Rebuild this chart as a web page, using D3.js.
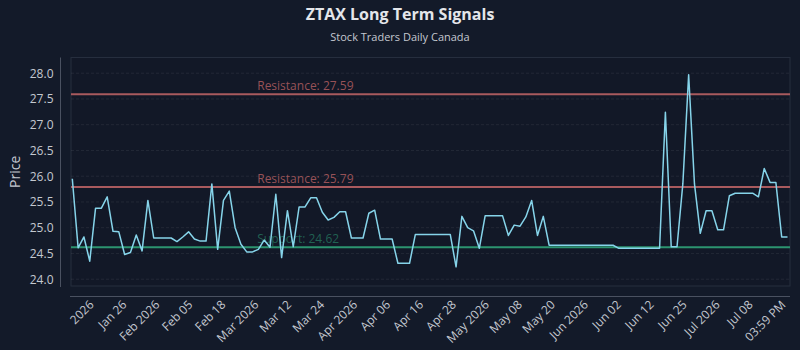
<!DOCTYPE html>
<html>
<head>
<meta charset="utf-8">
<script src="https://cdn.jsdelivr.net/npm/d3@7"></script>
<style>
  body { margin: 0; background: #131a29; }
  text { font-family: "Open Sans", sans-serif; }
</style>
</head>
<body>
<svg id="chart"></svg>
<script>
// closing prices, one per session
let prices = [
  25.95, 24.61, 24.82, 24.35, 25.38, 25.38, 25.60, 24.93, 24.92, 24.48,
  24.52, 24.86, 24.55, 25.53, 24.80, 24.80, 24.80, 24.80, 24.73, 24.82,
  24.92, 24.78, 24.74, 24.74, 25.85, 24.58, 25.53, 25.71, 25.00, 24.68,
  24.53, 24.53, 24.58, 24.76, 24.62, 25.65, 24.42, 25.33, 24.63, 25.40,
  25.40, 25.58, 25.58, 25.30, 25.15, 25.20, 25.31, 25.31, 24.80, 24.80,
  24.80, 25.28, 25.34, 24.78, 24.78, 24.78, 24.31, 24.31, 24.31, 24.87,
  24.87, 24.87, 24.87, 24.87, 24.87, 24.87, 24.24, 25.22, 25.00, 24.94,
  24.60, 25.23, 25.23, 25.23, 25.23, 24.85, 25.05, 25.03, 25.21, 25.53,
  24.85, 25.22, 24.66, 24.66, 24.66, 24.66, 24.66, 24.66, 24.66, 24.66,
  24.66, 24.66, 24.66, 24.66, 24.60, 24.60, 24.60, 24.60, 24.60, 24.60,
  24.60, 24.60, 27.24, 24.63, 24.63, 25.85, 27.97, 25.85, 24.89, 25.33,
  25.33, 24.96, 24.96, 25.62, 25.67, 25.67, 25.67, 25.67, 25.60, 26.15,
  25.88, 25.88, 24.82, 24.82
];

let x_labels = ["2026", "Jan 26", "Feb 2026", "Feb 05", "Feb 18", "Mar 2026", "Mar 12",
  "Mar 24", "Apr 2026", "Apr 06", "Apr 16", "Apr 28", "May 2026", "May 08", "May 20",
  "Jun 2026", "Jun 02", "Jun 12", "Jun 25", "Jul 2026", "Jul 08", "03:59 PM"];

let y_ticks = [24.0, 24.5, 25.0, 25.5, 26.0, 26.5, 27.0, 27.5, 28.0];

let resistance = [27.59, 25.79];
let support = [24.62];

let width = 800,
  height = 350,
  margins = {left: 71, right: 10, top: 57.5, bottom: 64},
  colors = {line: "#86d4ea", res: "#a95a5e", sup: "#2c9470", text: "#c4c8d0"};

function make_scales() {
  return {
    x: d3.scaleLinear()
      .domain([0, prices.length - 1])
      .range([margins.left + 1.3, width - margins.right - 2.5]),
    xl: d3.scalePoint()
      .domain(x_labels)
      .range([margins.left + 23, width - margins.right - 4]),
    y: d3.scaleLinear()
      .domain([23.868, 28.305])
      .range([height - margins.bottom, margins.top])
  }
}

function draw() {
  let svg = d3.select("#chart").attr("width", width).attr("height", height)
  let scales = make_scales()
  let x0 = margins.left, x1 = width - margins.right,
    y0 = margins.top, y1 = height - margins.bottom

  svg.append("rect")
    .attr("width", width).attr("height", height).attr("fill", "#131a29")

  svg.append("rect")
    .attr("x", x0).attr("y", y0).attr("width", x1 - x0).attr("height", y1 - y0)
    .attr("fill", "#121827").attr("stroke", "#262e3e").attr("stroke-width", 1)

  // grid
  svg.append("g").selectAll("line")
    .data(y_ticks).enter()
    .append("line")
    .attr("x1", x0).attr("x2", x1)
    .attr("y1", d => scales.y(d)).attr("y2", d => scales.y(d))
    .attr("stroke", "#ffffff").attr("stroke-opacity", 0.07)
    .attr("stroke-dasharray", "3,2")

  // y axis
  let y_axis = svg.append("g")
    .attr("transform", `translate(${x0 - 10.5}, 0)`)
    .call(d3.axisLeft(scales.y).tickValues(y_ticks).tickFormat(d3.format(".1f")).tickSize(0).tickPadding(7))
  y_axis.select(".domain").attr("stroke", "#4a5160").attr("d", `M0,${y0}V${y1 + 1}`)
  y_axis.selectAll("text").attr("fill", colors.text).attr("font-size", 12)
    .attr("font-family", "'Open Sans', sans-serif")

  // x axis
  let x_axis = svg.append("g")
    .attr("transform", `translate(0, ${y1 + 10.5})`)
    .call(d3.axisBottom(scales.xl).tickSize(0).tickPadding(0))
  x_axis.select(".domain").attr("stroke", "#4a5160").attr("d", `M${x0 - 1},0H${x1}`)
  x_axis.selectAll("text")
    .attr("fill", colors.text).attr("font-size", 12)
    .attr("font-family", "'Open Sans', sans-serif")
    .attr("text-anchor", "end")
    .attr("dy", 0).attr("y", 0)
    .attr("transform", "translate(0, 9) rotate(-45)")

  // resistance / support levels
  let levels = resistance.map(v => ({v: v, name: "Resistance", c: colors.res}))
    .concat(support.map(v => ({v: v, name: "Support", c: colors.sup})))

  svg.append("g").selectAll("line")
    .data(levels).enter()
    .append("line")
    .attr("x1", x0).attr("x2", x1)
    .attr("y1", d => scales.y(d.v)).attr("y2", d => scales.y(d.v))
    .attr("stroke", d => d.c).attr("stroke-width", 2)

  svg.append("g").selectAll("text")
    .data(levels).enter()
    .append("text")
    .attr("x", x0 + (x1 - x0) * 0.259)
    .attr("y", d => scales.y(d.v) - 4.5)
    .attr("fill", d => d.c)
    .attr("fill-opacity", d => d.name == "Support" ? 0.6 : 0.9)
    .attr("font-size", 12)
    .text(d => `${d.name}: ${d.v.toFixed(2)}`)

  // price line
  svg.append("path")
    .datum(prices)
    .attr("fill", "none")
    .attr("stroke", colors.line)
    .attr("stroke-width", 1.5)
    .attr("stroke-linejoin", "round")
    .attr("d", d3.line().x((d, i) => scales.x(i)).y(d => scales.y(d)))

  // titles
  svg.append("text")
    .attr("x", width / 2).attr("y", 20)
    .attr("text-anchor", "middle")
    .attr("fill", "#e4e6ea").attr("font-size", 16).attr("font-weight", "bold")
    .text("ZTAX Long Term Signals")
  svg.append("text")
    .attr("x", width / 2).attr("y", 41)
    .attr("text-anchor", "middle")
    .attr("fill", colors.text).attr("font-size", 11)
    .text("Stock Traders Daily Canada")
  svg.append("text")
    .attr("transform", `translate(20, ${(y0 + y1) / 2}) rotate(-90)`)
    .attr("text-anchor", "middle")
    .attr("fill", colors.text).attr("font-size", 14)
    .text("Price")
}

draw()
</script>
</body>
</html>
